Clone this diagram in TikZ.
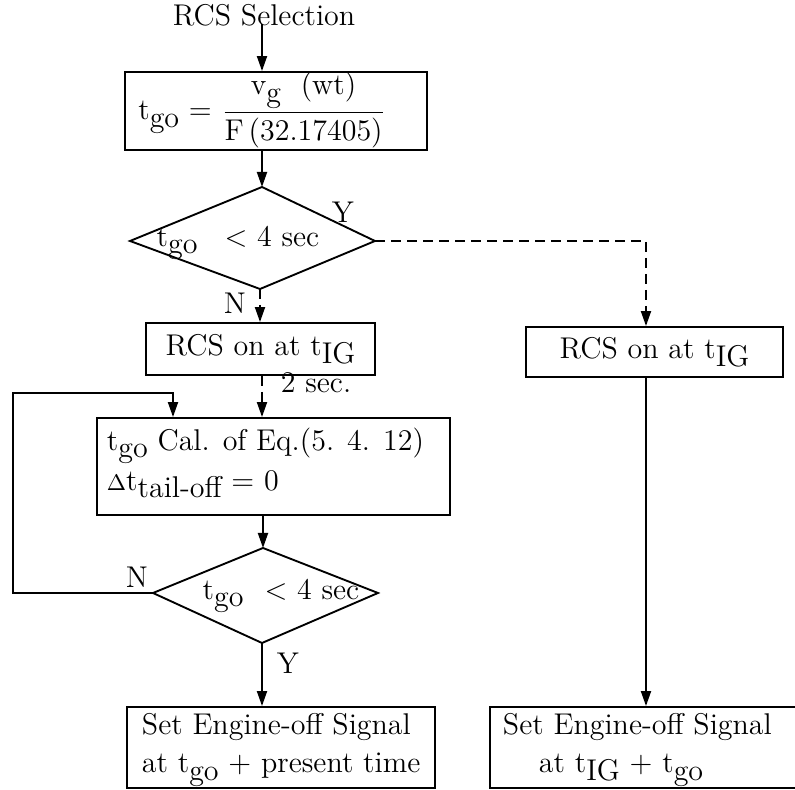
\documentclass[tikz,border=0pt]{standalone}
\usetikzlibrary{arrows.meta}
\newcommand\sbs[1]{\raisebox{-0.6ex}{#1}}
\begin{document}
\begin{tikzpicture}[x=0.4pt,y=-0.4pt,
  font=\fontsize{12}{15}\selectfont,
  line width=0.75pt,
  box/.style={draw, inner sep=0pt},
  lbl/.style={inner sep=0pt},
  arr/.style={-{Triangle[length=6pt,width=4pt]}},
  dsh/.style={dash pattern=on 4pt off 2.4pt}]
\useasboundingbox (0,0) rectangle (795,790);
% title
\node[lbl] (sel) at (264,15) {RCS Selection};
% box 1
\node[box, minimum width=120.8pt, minimum height=31.2pt] (b1) at (276,111) {};
\node[lbl] (b1t) at (262,110) {t\sbs{go} = $\displaystyle\frac{\hbox{v\sbs{g}\ \ (wt)}}{\hbox{F\,(32.17405)}}$};
% diamond 1
\coordinate (d1t) at (262,187);
\coordinate (d1r) at (375,241);
\coordinate (d1b) at (260,289);
\coordinate (d1l) at (130,241);
\draw (d1t) -- (d1r) -- (d1b) -- (d1l) -- cycle;
\node[lbl] (d1x) at (238,243) {t\sbs{go}\hspace{0.9em}$<$ 4 sec};
\node[lbl] (y1) at (343,212) {Y};
\node[lbl] (n1) at (235,303) {N};
% box 2 and right box
\node[box, minimum width=91.6pt, minimum height=20.8pt] (b2) at (260.5,349) {RCS on at t\sbs{IG}};
\node[box, minimum width=102.8pt, minimum height=20pt] (bR) at (654.5,352) {RCS on at t\sbs{IG}};
% box 3
\node[box, minimum width=141.2pt, minimum height=38.8pt] (b3) at (273.5,466.5) {};
\node[lbl, anchor=west, align=left] (b3t) at (106,463) {t\sbs{go} Cal. of Eq.(5. 4. 12)\\[1pt]
  {\small$\Delta$}t\sbs{tail-off} = 0};
\node[lbl, anchor=base] (s2) at (316,393) {2 sec.};
% diamond 2
\coordinate (d2t) at (263,548);
\coordinate (d2r) at (378,593);
\coordinate (d2b) at (262,643);
\coordinate (d2l) at (153,593);
\draw (d2t) -- (d2r) -- (d2b) -- (d2l) -- cycle;
\node[lbl] (d2x) at (281,596) {t\sbs{go}\hspace{0.7em}$<$ 4 sec};
\node[lbl] (n2) at (137,577) {N};
\node[lbl] (y2) at (288,663) {Y};
% bottom boxes
\node[box, minimum width=123.2pt, minimum height=32.4pt] (b4) at (281,747.5) {};
\node[lbl, anchor=west, align=left] (b4t) at (141,750) {Set Engine-off Signal\\at t\sbs{go} + present time};
\node[box, minimum width=126pt, minimum height=32.4pt] (b5) at (647.5,747.5) {};
\node[lbl, anchor=west, align=left] (b5t) at (502,750) {Set Engine-off Signal\\\hspace{1.2em}at t\sbs{IG} + t\sbs{go}};
% connectors
\coordinate (c1) at (646,241);
\coordinate (lp1) at (13,593);
\coordinate (lp2) at (13,393);
\coordinate (lp3) at (173,393);
\draw[arr] (sel.south -| d1t) ++(0,-3) -- (d1t |- b1.north);
\draw[arr] (d1t |- b1.south) -- (d1t);
\draw[arr, dsh] (d1b) -- (d1b |- b2.north);
\draw[arr, dsh] (d1r) -- (c1) -- (c1 |- bR.north);
\draw[arr, dsh] (d1t |- b2.south) -- (d1t |- b3.north);
\draw[arr] (c1 |- bR.south) -- (c1 |- b5.north);
\draw[arr] (d2t |- b3.south) -- (d2t);
\draw[arr] (d2l) -- (lp1) -- (lp2) -- (lp3) -- (lp3 |- b3.north);
\draw[arr] (d2b) -- (d2b |- b4.north);
\end{tikzpicture}
\end{document}
